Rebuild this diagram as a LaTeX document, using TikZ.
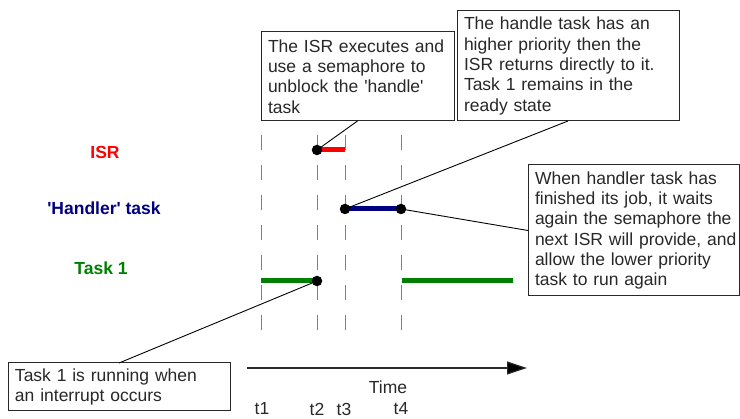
\documentclass[tikz,border=0pt]{standalone}
\usepackage{fontspec}
\setmainfont{Liberation Sans}[Ligatures=TeXOff]
\usetikzlibrary{arrows.meta}
\definecolor{isrred}{RGB}{255,0,0}
\definecolor{handlerblue}{RGB}{0,0,128}
\definecolor{taskgreen}{RGB}{0,128,0}
\definecolor{gridgray}{RGB}{128,128,128}
\definecolor{inkgray}{RGB}{40,40,40}

\begin{document}
\begin{tikzpicture}[x=1pt,y=-1pt,
  txt/.style={font=\fontsize{17.5}{20.3}\selectfont, text=inkgray},
  instant/.style={txt, inner sep=0pt},
  note/.style={txt, draw=inkgray, line width=1pt, fill=white, anchor=north west,
    inner xsep=7pt, inner ysep=0pt, outer sep=0pt, align=left},
  lane/.style={font=\fontsize{17.5}{20.3}\selectfont\bfseries},
  tickline/.style={draw=gridgray, line width=0.9pt, dash pattern=on 15pt off 15pt},
  bar/.style={line width=5pt},
  dot/.style={circle, fill=black, minimum size=10.5pt, inner sep=0pt},
  lead/.style={draw=black, line width=0.9pt}
]
\useasboundingbox (0,0) rectangle (740,419);

% lane labels
\node[lane, text=isrred]      (lisr) at (105,152) {ISR};
\node[lane, text=handlerblue] (lhan) at (104,208) {'Handler' task};
\node[lane, text=taskgreen]   (ltsk) at (101,268) {Task 1};

% time instants
\coordinate (t1top) at (261,135); \coordinate (t1bot) at (261,330);
\coordinate (t2top) at (317,135); \coordinate (t2bot) at (317,330);
\coordinate (t3top) at (345,135); \coordinate (t3bot) at (345,330);
\coordinate (t4top) at (401,135); \coordinate (t4bot) at (401,330);
\draw[tickline] (t1top) -- (t1bot);
\draw[tickline] (t2top) -- (t2bot);
\draw[tickline] (t3top) -- (t3bot);
\draw[tickline] (t4top) -- (t4bot);

% execution bars
\coordinate (isrA) at (317,150); \coordinate (isrB) at (345,150);
\coordinate (hanA) at (345,209); \coordinate (hanB) at (401,209);
\coordinate (tskA) at (261,281); \coordinate (tskB) at (317,281);
\coordinate (tskC) at (402,281); \coordinate (tskD) at (513,281);
\draw[bar, isrred] (isrA) -- (isrB);
\draw[bar, handlerblue] (hanA) -- (hanB);
\draw[bar, taskgreen] (tskA) -- (tskB);
\draw[bar, taskgreen] (tskC) -- (tskD);

\node[dot] (disr)  at (isrA) {};
\node[dot] (dhanA) at (hanA) {};
\node[dot] (dhanB) at (hanB) {};
\node[dot] (dtsk)  at (tskB) {};

% notes
\node[note, minimum width=193pt, minimum height=89pt, text width=179pt] (n1) at (261,32)
  {\mbox{The ISR executes and}\\ \mbox{use a semaphore to}\\ \mbox{unblock the 'handle'}\\ \mbox{task}};
\node[note, minimum width=222pt, minimum height=110pt, text width=208pt] (n2) at (457,11)
  {\mbox{The handle task has an}\\ \mbox{higher priority then the}\\ \mbox{ISR returns directly to it.}\\ \mbox{Task 1 remains in the}\\ \mbox{ready state}};
\node[note, minimum width=211pt, minimum height=131pt, text width=197pt] (n3) at (528,165)
  {\mbox{When handler task has}\\ \mbox{finished its job, it waits}\\ \mbox{again the semaphore the}\\ \mbox{next ISR will provide, and}\\ \mbox{allow the lower priority}\\ \mbox{task to run again}};
\node[note, minimum width=222pt, minimum height=48pt, text width=208pt] (n4) at (8,363)
  {\mbox{Task 1 is running when}\\ \mbox{an interrupt occurs}};

% leader lines
\draw[lead] (n1.south) -- (disr.center);
\draw[lead] (n2.south) -- (dhanA.center);
\draw[lead] (n3.west) -- (dhanB.center);
\draw[lead] (n4.north) -- (dtsk.center);

% time axis
\coordinate (ax0) at (247,368);
\coordinate (ax1) at (527,368);
\draw[line width=1.2pt, draw=inkgray, -{Triangle[length=20pt,width=13pt,fill=black]}] (ax0) -- (ax1);
\node[txt] (ltime) at (388,387) {Time};
\node[instant] (lt1) at (262,409) {t1};
\node[instant] (lt2) at (317,409) {t2};
\node[instant] (lt3) at (344,409) {t3};
\node[instant] (lt4) at (401,409) {t4};
\end{tikzpicture}
\end{document}
